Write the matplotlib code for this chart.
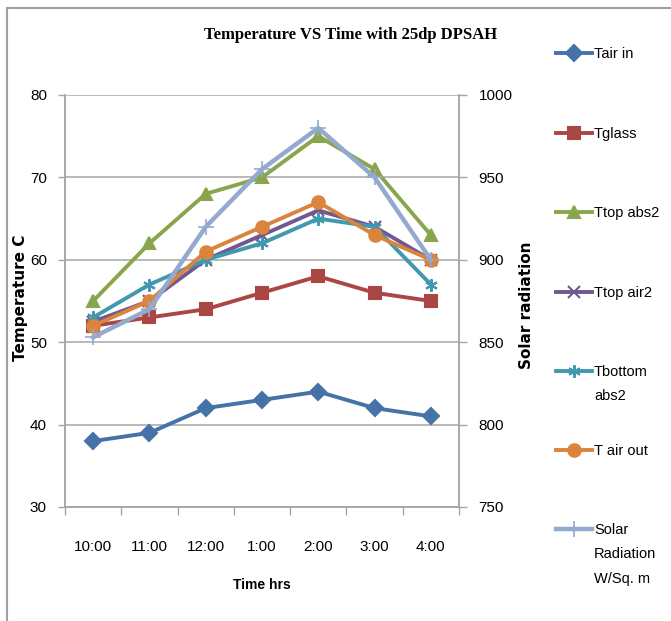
import matplotlib
matplotlib.use("Agg")
import matplotlib.pyplot as plt
from matplotlib.lines import Line2D

times = ["10:00", "11:00", "12:00", "1:00", "2:00", "3:00", "4:00"]
tair_in = [38, 39, 42, 43, 44, 42, 41]
tglass = [52, 53, 54, 56, 58, 56, 55]
ttop_abs2 = [55, 62, 68, 70, 75, 71, 63]
ttop_air2 = [52.5, 55, 60, 63, 66, 64, 60]
tbottom_abs2 = [53, 57, 60, 62, 65, 64, 57]
tair_out = [52, 55, 61, 64, 67, 63, 60]
solar = [853, 870, 920, 955, 980, 950, 900]

temp_ticks = [30, 40, 50, 60, 70, 80]
solar_ticks = [750, 800, 850, 900, 950, 1000]

sans = "Liberation Sans"

fig = plt.figure(figsize=(6.71, 6.21), dpi=100)
W, H = 671, 621
ax = fig.add_axes([65 / W, 1 - 507 / H, 394 / W, 412 / H])
ax2 = ax.twinx()

x = list(range(len(times)))
lw = 2.8
series = [
    (tair_in, ["Tair in"], "#4572A7", "D", 8),
    (tglass, ["Tglass"], "#AA4643", "s", 8),
    (ttop_abs2, ["Ttop abs2"], "#89A54E", "^", 9),
    (ttop_air2, ["Ttop air2"], "#71588F", "x", 8),
    (tbottom_abs2, ["Tbottom", "abs2"], "#4198AF", (6, 2, 0), 9),
    (tair_out, ["T air out"], "#DB843D", "o", 9),
]
handles = []
for vals, lab, col, mk, ms in series:
    h, = ax.plot(x, vals, color=col, lw=lw, marker=mk, markersize=ms,
                 markeredgecolor=col, markeredgewidth=1.5, zorder=3)
    handles.append((h, lab))
hs, = ax2.plot(x, solar, color="#93A9CF", lw=lw + 0.4, marker="+", markersize=11,
               markeredgewidth=1.2, zorder=3)
handles.append((hs, ["Solar", "Radiation", "W/Sq. m"]))

gcol = "#a6a6a6"
ax.set_ylim(30, 80)
ax.set_yticks(temp_ticks)
ax2.set_ylim(750, 1000)
ax2.set_yticks(solar_ticks)
ax.set_xlim(-0.5, len(times) - 0.5)
ax.set_xticks(x)
ax.set_xticklabels(times)
ax.set_xticks([i - 0.5 for i in range(len(times) + 1)], minor=True)
ax.tick_params(axis="x", which="major", length=0, pad=24)
ax.tick_params(axis="x", which="minor", length=6, color=gcol, width=1)
ax.tick_params(axis="y", length=5, color=gcol, width=1, pad=8)
ax2.tick_params(axis="y", length=6, color=gcol, width=1, pad=8)
ax.grid(axis="y", color=gcol, lw=1.1)
ax.set_axisbelow(True)
for a in (ax, ax2):
    for s in a.spines.values():
        s.set_color(gcol)
        s.set_linewidth(1.1)
    a.spines["top"].set_visible(False)
for lbl in ax.get_xticklabels() + ax.get_yticklabels() + ax2.get_yticklabels():
    lbl.set_fontfamily(sans)
    lbl.set_fontsize(11)

ax.set_ylabel("Temperature C", fontweight="bold", fontsize=11, family="DejaVu Sans",
              va="center", ha="center")
ax.yaxis.set_label_coords(-0.114, 0.507)
ax2.set_ylabel("Solar radiation", fontweight="bold", fontsize=11, family="DejaVu Sans",
               rotation=90, va="center", ha="center")
ax2.yaxis.set_label_coords(1.172, 0.49)
fig.text(262 / W, 1 - 585 / H, "Time hrs", ha="center", va="center",
         fontweight="bold", fontsize=10, family=sans)
fig.text(351 / W, 1 - 35 / H, "Temperature VS Time with 25dp DPSAH", ha="center",
         va="center", fontweight="bold", fontsize=12, family="Liberation Serif")

ys = [54, 134, 213, 293, 372, 451, 530]
fs = 10.5
for (h, lab), yy in zip(handles, ys):
    fig.legend([h], [lab[0]], loc="center left", bbox_to_anchor=(556 / W, 1 - yy / H),
               frameon=False, borderpad=0, borderaxespad=0, handlelength=2.5,
               handletextpad=0.1, prop={"family": sans, "size": fs})
    for k, extra in enumerate(lab[1:], start=1):
        fig.text(594 / W, 1 - (yy + 24.5 * k) / H, extra, ha="left", va="center",
                 family=sans, fontsize=fs)

fig.add_artist(Line2D([7 / W, 7 / W], [0, 1 - 8 / H], color="#a0a0a0", lw=1.5,
                      transform=fig.transFigure))
fig.add_artist(Line2D([7 / W, 1], [1 - 8 / H, 1 - 8 / H], color="#a0a0a0", lw=1.5,
                      transform=fig.transFigure))

fig.savefig("out.png", dpi=100)
